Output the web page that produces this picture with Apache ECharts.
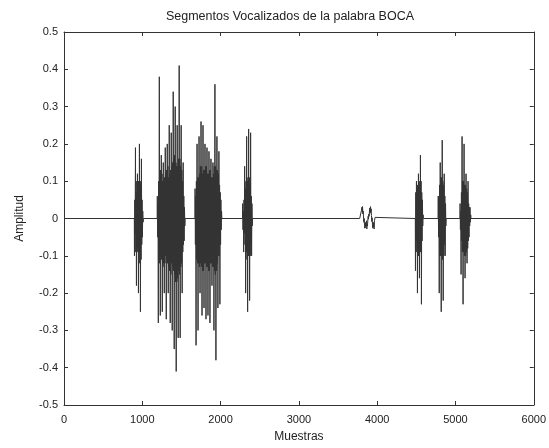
<!DOCTYPE html>
<html>
<head>
<meta charset="utf-8">
<script src="https://cdn.jsdelivr.net/npm/echarts@6/dist/echarts.min.js"></script>
<style>
html,body{margin:0;padding:0;background:#fff;}
#chart{width:549px;height:448px;}
</style>
</head>
<body>
<div id="chart"></div>
<script>
// Tick labels
const xTicks = [0, 1000, 2000, 3000, 4000, 5000, 6000];
const yTicks = [-0.5, -0.4, -0.3, -0.2, -0.1, 0, 0.1, 0.2, 0.3, 0.4, 0.5];

// Sample spacing between successive read values (samples)
const sampleStep = 4.23;
const totalSamples = 6000;

// Start sample of each voiced segment
const burstStarts = [900, 1192, 1674, 2282, 3779, 4489, 4780, 5059];

// Amplitudes (spike, then core oscillation)
const burst1 = [-0.1,0.05,-0.04, 0.19,-0.09,0.07, -0.18,0.1,-0.08, 0.12,-0.09,0.1, -0.2,0.1,-0.09,
                0.2,-0.12,0.09, -0.25,0.1,-0.11, 0.16,-0.07,0.05, -0.05,0.02,-0.01];
const burst2 = [0.06,-0.05,0.04, -0.28,0.1,-0.09, 0.38,-0.12,0.11, -0.26,0.13,-0.1, 0.17,-0.11,0.12,
                -0.25,0.1,-0.13, 0.15,-0.12,0.1, -0.2,0.11,-0.12, 0.19,-0.1,0.12, -0.27,0.13,-0.11,
                0.2,-0.12,0.14, -0.2,0.11,-0.13, 0.25,-0.14,0.12, -0.28,0.13,-0.15, 0.23,-0.12,0.14,
                -0.3,0.15,-0.13, 0.34,-0.14,0.16, -0.35,0.17,-0.15, 0.3,-0.17,0.15, -0.41,0.14,-0.17,
                0.25,-0.16,0.14, -0.32,0.16,-0.14, 0.41,-0.15,0.16, -0.32,0.14,-0.13, 0.25,-0.12,0.13,
                -0.2,0.1,-0.09, 0.15,-0.07,0.06, -0.06,0.03,-0.02];
const burst3 = [0.08,-0.07,0.06, -0.34,0.1,-0.11, 0.2,-0.12,0.11, -0.3,0.11,-0.12, 0.22,-0.13,0.12,
                -0.2,0.14,-0.12, 0.26,-0.13,0.14, -0.26,0.12,-0.14, 0.25,-0.14,0.13, -0.24,0.13,-0.12,
                0.2,-0.12,0.14, -0.27,0.14,-0.13, 0.19,-0.13,0.12, -0.26,0.12,-0.14, 0.18,-0.14,0.13,
                -0.28,0.13,-0.12, 0.16,-0.12,0.11, -0.18,0.11,-0.13, 0.15,-0.13,0.12, -0.3,0.14,-0.14,
                0.36,-0.15,0.14, -0.38,0.13,-0.14, 0.22,-0.12,0.13, -0.24,0.12,-0.1, 0.18,-0.1,0.09,
                -0.23,0.07,-0.07, 0.05,-0.03,0.02];
const burst4 = [0.04,-0.03,0.02, -0.09,0.05,-0.04, 0.14,-0.07,0.08, -0.2,0.1,-0.09, 0.22,-0.11,0.1,
                -0.25,0.11,-0.1, 0.24,-0.1,0.11, -0.22,0.09,-0.1, 0.23,-0.07,0.06, -0.1,0.04,-0.02];
const burst5 = [0.005,-0.003,0.004, 0.015,0.01,0.022, 0.03,0.018,0.032, 0.012,0.02,0.004,
                -0.01,0.0,-0.018, -0.026,-0.012,-0.024, -0.01,-0.02,-0.006, -0.028,-0.014,-0.02,
                -0.004,0.006,-0.002, 0.012,0.006,0.02, 0.028,0.014,0.032, 0.018,0.026,0.008,
                -0.008,0.002,-0.016, -0.026,-0.01,-0.022, -0.012,-0.028,-0.006, -0.004,0.003,0.0];
const burst6 = [-0.14,0.07,-0.06, 0.1,-0.09,0.08, -0.2,0.09,-0.1, 0.12,-0.1,0.09,
                -0.16,0.1,-0.09, 0.17,-0.09,0.1, -0.23,0.07,-0.06, 0.05,-0.02,0.01];
const burst7 = [0.06,-0.05,0.06, -0.2,0.09,-0.1, 0.15,-0.1,0.11, -0.25,0.11,-0.1,
                0.21,-0.11,0.1, -0.22,0.09,-0.1, 0.12,-0.07,0.06, -0.1,0.04,-0.02];
const burst8 = [0.04,-0.03,0.02, -0.15,0.07,-0.06, 0.22,-0.09,0.1, -0.23,0.1,-0.09, 0.2,-0.1,0.09,
                -0.16,0.09,-0.1, 0.12,-0.09,0.08, -0.12,0.07,-0.08, 0.1,-0.06,0.04, -0.05,0.03,-0.02,
                0.03,-0.01,0.01];

const bursts = [burst1, burst2, burst3, burst4, burst5, burst6, burst7, burst8];

// Build the signal as [sample, amplitude]
const signal = [[0, 0]];
bursts.forEach((vals, k) => {
  const s = burstStarts[k];
  signal.push([s - 2, 0]);
  vals.forEach((v, i) => signal.push([s + i * sampleStep, v]));
  signal.push([s + vals.length * sampleStep, 0]);
});
signal.push([totalSamples, 0]);

const axisColor = '#333';
const textColor = '#222';
const font = 'Liberation Sans, Arial, sans-serif';

const chart = echarts.init(document.getElementById('chart'), null, {renderer: 'canvas'});
const baseX = {
  type: 'value', min: xTicks[0], max: xTicks[xTicks.length - 1], interval: 1000,
  axisLine: {show: true, onZero: false, lineStyle: {color: axisColor, width: 1}},
  axisTick: {show: true, inside: true, length: 4, lineStyle: {color: axisColor}},
  splitLine: {show: false}
};
const baseY = {
  type: 'value', min: yTicks[0], max: yTicks[yTicks.length - 1], interval: 0.1,
  axisLine: {show: true, onZero: false, lineStyle: {color: axisColor, width: 1}},
  axisTick: {show: true, inside: true, length: 4, lineStyle: {color: axisColor}},
  splitLine: {show: false}
};
chart.setOption({
  animation: false,
  backgroundColor: '#fff',
  title: {
    text: 'Segmentos Vocalizados de la palabra BOCA',
    left: 285, top: 5, textAlign: 'center',
    textStyle: {fontSize: 12.5, fontWeight: 'normal', color: textColor, fontFamily: font}
  },
  grid: {left: 64, right: 12, top: 32, bottom: 40, containLabel: false},
  xAxis: [
    Object.assign({}, baseX, {
      position: 'bottom',
      name: 'Muestras', nameLocation: 'middle', nameGap: 26,
      nameTextStyle: {fontSize: 12, color: textColor, fontFamily: font},
      axisLabel: {show: true, margin: 9, fontSize: 11, color: textColor, fontFamily: font,
        formatter: v => String(v)}
    }),
    Object.assign({}, baseX, {position: 'top', axisLabel: {show: false}})
  ],
  yAxis: [
    Object.assign({}, baseY, {
      position: 'left',
      name: 'Amplitud', nameLocation: 'middle', nameGap: 38,
      nameTextStyle: {fontSize: 12, color: textColor, fontFamily: font},
      axisLabel: {show: true, margin: 6, fontSize: 11, color: textColor, fontFamily: font,
        formatter: v => String(Math.round(v * 10) / 10)}
    }),
    Object.assign({}, baseY, {position: 'right', axisLabel: {show: false}})
  ],
  series: [{
    type: 'line',
    data: signal,
    xAxisIndex: 0, yAxisIndex: 0,
    showSymbol: false, symbol: 'none',
    lineStyle: {color: '#333', width: 1},
    silent: true
  }]
});
</script>
</body>
</html>
